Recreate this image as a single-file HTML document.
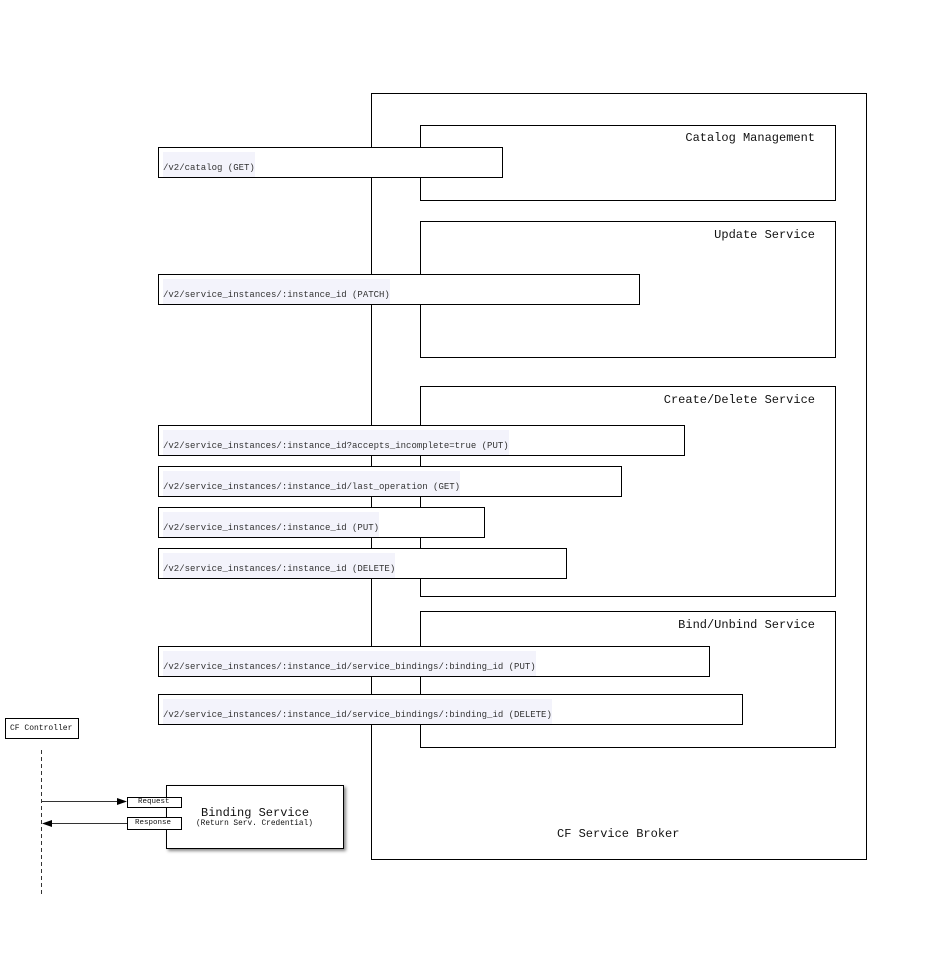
<!DOCTYPE html>
<html><head><style>
body{margin:0;width:938px;height:967px;background:#fff;position:relative;overflow:hidden;font-family:"Liberation Mono",monospace;color:#111}
.b{position:absolute;border:1px solid #000;background:#fff;box-sizing:border-box}
.t{position:absolute;font-size:12px;white-space:nowrap}
.ep{position:absolute;border:1px solid #000;background:#fff;box-sizing:border-box}
.ep span{position:absolute;left:4px;top:4px;bottom:0;background:#f3f3fb;font-size:9px;line-height:9px;padding-top:12px;color:#333;white-space:nowrap}
</style></head><body>
<div class="b" style="left:371px;top:93px;width:496px;height:767px"></div>
<div class="t" style="left:557px;top:827px">CF Service Broker</div>

<div class="b" style="left:420px;top:125px;width:416px;height:76px"></div>
<div class="t" style="right:123px;top:131px">Catalog Management</div>
<div class="b" style="left:420px;top:221px;width:416px;height:137px"></div>
<div class="t" style="right:123px;top:228px">Update Service</div>
<div class="b" style="left:420px;top:386px;width:416px;height:211px"></div>
<div class="t" style="right:123px;top:393px">Create/Delete Service</div>
<div class="b" style="left:420px;top:611px;width:416px;height:137px"></div>
<div class="t" style="right:123px;top:618px">Bind/Unbind Service</div>

<div class="ep" style="left:158px;top:147px;width:345px;height:31px"><span>/v2/catalog (GET)</span></div>
<div class="ep" style="left:158px;top:274px;width:482px;height:31px"><span>/v2/service_instances/:instance_id (PATCH)</span></div>
<div class="ep" style="left:158px;top:425px;width:527px;height:31px"><span>/v2/service_instances/:instance_id?accepts_incomplete=true (PUT)</span></div>
<div class="ep" style="left:158px;top:466px;width:464px;height:31px"><span>/v2/service_instances/:instance_id/last_operation (GET)</span></div>
<div class="ep" style="left:158px;top:507px;width:327px;height:31px"><span>/v2/service_instances/:instance_id (PUT)</span></div>
<div class="ep" style="left:158px;top:548px;width:409px;height:31px"><span>/v2/service_instances/:instance_id (DELETE)</span></div>
<div class="ep" style="left:158px;top:646px;width:552px;height:31px"><span>/v2/service_instances/:instance_id/service_bindings/:binding_id (PUT)</span></div>
<div class="ep" style="left:158px;top:694px;width:585px;height:31px"><span>/v2/service_instances/:instance_id/service_bindings/:binding_id (DELETE)</span></div>

<div class="b" style="left:5px;top:718px;width:74px;height:21px"></div>
<div class="t" style="left:10px;top:724px;font-size:8px">CF Controller</div>

<div class="b" style="left:166px;top:785px;width:178px;height:64px;box-shadow:2px 2px 3px #888"></div>
<div class="t" style="left:201px;top:806px">Binding Service</div>
<div class="t" style="left:196px;top:820px;font-size:7.8px">(Return Serv. Credential)</div>

<svg style="position:absolute;left:0;top:0" width="938" height="967">
<line x1="41.5" y1="750" x2="41.5" y2="895" stroke="#333" stroke-dasharray="4,3"/>
<line x1="41" y1="801.5" x2="118" y2="801.5" stroke="#333"/>
<polygon points="127,801.5 117,798 117,805" fill="#000"/>
<line x1="52" y1="823.5" x2="127" y2="823.5" stroke="#333"/>
<polygon points="42,823.5 52,820 52,827" fill="#000"/>
</svg>
<div class="b" style="left:127px;top:797px;width:55px;height:11px"></div>
<div class="t" style="left:138px;top:798px;font-size:7.5px">Request</div>
<div class="b" style="left:127px;top:817px;width:55px;height:13px"></div>
<div class="t" style="left:135px;top:819px;font-size:7.5px">Response</div>
</body></html>
